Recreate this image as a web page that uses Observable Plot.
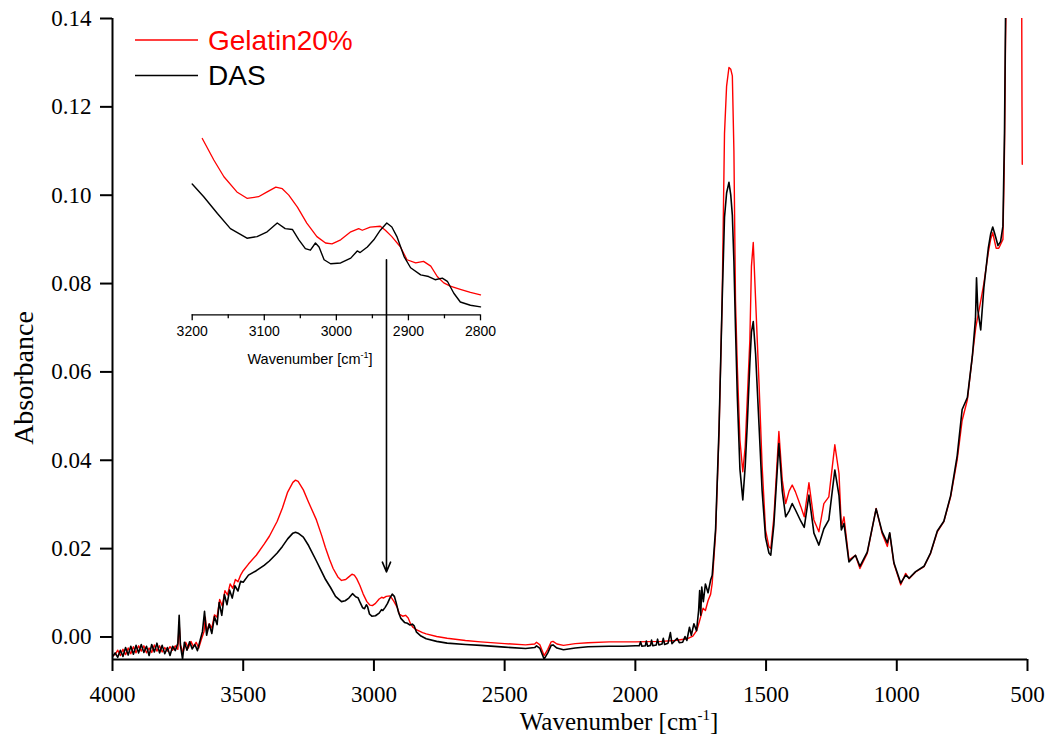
<!DOCTYPE html>
<html><head><meta charset="utf-8">
<script src="https://cdn.jsdelivr.net/npm/d3@7"></script>
<script src="https://cdn.jsdelivr.net/npm/@observablehq/plot@0.6"></script>
<style>
body{margin:0;background:#fff;}
#wrap{position:relative;width:1051px;height:737px;overflow:hidden;background:#fff;}
#wrap svg.mainplot text{font-family:"Liberation Serif", "Times New Roman", serif !important;}
#wrap svg.insetplot text{font-family:"Liberation Sans", Arial, sans-serif !important;}
</style></head><body><div id="wrap"></div>
<script>
// ---- data: [wavenumber cm-1, absorbance] ----
const gelatin = [[4000,-0.0042],[3990,-0.0040],[3980,-0.0030],[3970,-0.0042],[3960,-0.0028],[3950,-0.0040],[3940,-0.0025],[3930,-0.0038],[3920,-0.0022],[3910,-0.0036],[3900,-0.0020],[3890,-0.0032],[3880,-0.0020],[3870,-0.0036],[3860,-0.0025],[3850,-0.0035],[3840,-0.0018],[3830,-0.0032],[3820,-0.0020],[3810,-0.0034],[3800,-0.0024],[3790,-0.0032],[3780,-0.0022],[3770,-0.0030],[3760,-0.0020],[3750,-0.0028],[3745,0.0030],[3740,-0.0018],[3730,-0.0035],[3720,-0.0012],[3710,-0.0025],[3700,-0.0010],[3690,-0.0022],[3680,-0.0012],[3670,-0.0025],[3660,-0.0005],[3650,0.0012],[3645,0.0045],[3640,0.0012],[3630,0.0030],[3620,0.0020],[3610,0.0050],[3600,0.0045],[3590,0.0085],[3580,0.0070],[3570,0.0105],[3560,0.0095],[3550,0.0120],[3540,0.0110],[3530,0.0130],[3520,0.0125],[3510,0.0140],[3500,0.0150],[3480,0.0165],[3450,0.0185],[3420,0.0210],[3400,0.0228],[3370,0.0262],[3350,0.0292],[3330,0.0328],[3310,0.0350],[3300,0.0355],[3290,0.0352],[3270,0.0333],[3250,0.0305],[3220,0.0265],[3200,0.0230],[3186,0.0203],[3170,0.0176],[3156,0.0155],[3138,0.0136],[3124,0.0128],[3108,0.0130],[3096,0.0136],[3084,0.0142],[3075,0.0140],[3066,0.0132],[3054,0.0117],[3041,0.0097],[3027,0.0080],[3015,0.0072],[3006,0.0071],[2994,0.0076],[2980,0.0086],[2969,0.0090],[2964,0.0088],[2953,0.0092],[2939,0.0093],[2932,0.0088],[2923,0.0080],[2911,0.0067],[2902,0.0051],[2890,0.0047],[2879,0.0049],[2869,0.0043],[2860,0.0030],[2851,0.0022],[2842,0.0018],[2828,0.0014],[2814,0.0010],[2800,0.0007],[2760,0.0001],[2720,-0.0003],[2650,-0.0008],[2592,-0.0011],[2500,-0.0015],[2420,-0.0018],[2385,-0.0016],[2378,-0.0012],[2365,-0.0018],[2349,-0.0042],[2335,-0.0028],[2322,-0.0011],[2315,-0.0010],[2300,-0.0016],[2275,-0.0019],[2230,-0.0015],[2181,-0.0013],[2100,-0.0011],[2000,-0.0011],[1900,-0.0010],[1850,-0.0008],[1800,-0.0004],[1780,0.0002],[1765,0.0015],[1755,0.0035],[1748,0.0050],[1741,0.0065],[1732,0.0060],[1722,0.0082],[1712,0.0097],[1706,0.0122],[1693,0.0235],[1680,0.0460],[1668,0.0763],[1659,0.1140],[1651,0.1247],[1642,0.1289],[1635,0.1285],[1629,0.1270],[1623,0.1100],[1617,0.0763],[1610,0.0612],[1600,0.0446],[1589,0.0374],[1580,0.0430],[1572,0.0537],[1562,0.0673],[1556,0.0839],[1549,0.0893],[1540,0.0763],[1527,0.0575],[1515,0.0386],[1502,0.0242],[1489,0.0204],[1482,0.0200],[1470,0.0272],[1451,0.0465],[1438,0.0355],[1425,0.0302],[1412,0.0330],[1400,0.0344],[1388,0.0329],[1367,0.0295],[1354,0.0272],[1336,0.0349],[1317,0.0265],[1298,0.0238],[1279,0.0302],[1260,0.0317],[1237,0.0435],[1221,0.0370],[1212,0.0249],[1202,0.0272],[1183,0.0174],[1158,0.0185],[1141,0.0155],[1113,0.0189],[1079,0.0291],[1056,0.0234],[1036,0.0205],[1027,0.0234],[1011,0.0166],[985,0.0118],[966,0.0144],[953,0.0132],[928,0.0147],[896,0.0159],[871,0.0189],[845,0.0238],[820,0.0261],[794,0.0317],[769,0.0401],[750,0.0490],[730,0.0537],[711,0.0635],[698,0.0700],[679,0.0760],[667,0.0800],[650,0.0870],[641,0.0900],[633,0.0915],[620,0.0880],[610,0.0880],[594,0.0900],[588,0.1100],[584,0.1350],[580,0.1500],[560,0.1600],[523,0.1600],[521,0.1200],[520,0.1070]];

const das = [[4000,-0.0045],[3990,-0.0036],[3980,-0.0046],[3970,-0.0030],[3960,-0.0044],[3950,-0.0024],[3940,-0.0041],[3930,-0.0021],[3920,-0.0039],[3910,-0.0019],[3900,-0.0036],[3890,-0.0017],[3880,-0.0035],[3870,-0.0021],[3860,-0.0042],[3850,-0.0017],[3840,-0.0034],[3830,-0.0014],[3820,-0.0036],[3810,-0.0019],[3800,-0.0038],[3790,-0.0024],[3780,-0.0042],[3770,-0.0021],[3760,-0.0031],[3750,-0.0014],[3745,0.0049],[3740,-0.0020],[3732,-0.0050],[3725,-0.0012],[3715,-0.0030],[3705,-0.0011],[3695,-0.0027],[3685,-0.0017],[3675,-0.0031],[3665,-0.0008],[3656,0.0012],[3648,0.0058],[3640,0.0004],[3630,0.0029],[3620,0.0008],[3610,0.0046],[3600,0.0028],[3592,0.0078],[3582,0.0049],[3572,0.0096],[3562,0.0073],[3552,0.0106],[3542,0.0088],[3532,0.0116],[3520,0.0104],[3510,0.0126],[3500,0.0124],[3480,0.0140],[3450,0.0150],[3420,0.0162],[3400,0.0172],[3370,0.0190],[3350,0.0205],[3330,0.0222],[3310,0.0235],[3300,0.0237],[3290,0.0235],[3270,0.0226],[3250,0.0207],[3220,0.0172],[3200,0.0148],[3185,0.0130],[3166,0.0112],[3147,0.0092],[3124,0.0080],[3110,0.0082],[3096,0.0088],[3082,0.0098],[3070,0.0091],[3061,0.0089],[3052,0.0077],[3043,0.0066],[3036,0.0064],[3029,0.0073],[3024,0.0068],[3017,0.0052],[3008,0.0047],[2994,0.0048],[2980,0.0054],[2971,0.0062],[2966,0.0060],[2957,0.0067],[2948,0.0076],[2939,0.0088],[2930,0.0097],[2922,0.0092],[2916,0.0080],[2906,0.0056],[2897,0.0042],[2883,0.0033],[2872,0.0031],[2862,0.0027],[2853,0.0029],[2846,0.0025],[2837,0.0011],[2820,0.0002],[2800,-0.0004],[2760,-0.0010],[2720,-0.0014],[2650,-0.0017],[2592,-0.0019],[2500,-0.0023],[2420,-0.0026],[2385,-0.0024],[2378,-0.0020],[2365,-0.0026],[2349,-0.0050],[2335,-0.0036],[2322,-0.0019],[2315,-0.0018],[2300,-0.0025],[2275,-0.0029],[2230,-0.0025],[2181,-0.0022],[2100,-0.0021],[2047,-0.0021],[2000,-0.0020],[1985,-0.0020],[1980,-0.0011],[1975,-0.0021],[1962,-0.0020],[1958,-0.0009],[1953,-0.0021],[1942,-0.0019],[1938,-0.0007],[1933,-0.0020],[1920,-0.0018],[1915,-0.0005],[1910,-0.0018],[1898,-0.0016],[1893,-0.0003],[1888,-0.0017],[1875,-0.0014],[1866,0.0010],[1860,-0.0015],[1850,-0.0009],[1840,-0.0003],[1832,-0.0013],[1819,-0.0012],[1810,0.0001],[1803,-0.0008],[1793,0.0022],[1786,0.0004],[1776,0.0030],[1766,0.0014],[1758,0.0060],[1754,0.0105],[1750,0.0049],[1746,0.0113],[1740,0.0080],[1732,0.0120],[1722,0.0100],[1712,0.0129],[1706,0.0140],[1693,0.0245],[1680,0.0470],[1668,0.0760],[1659,0.0950],[1651,0.1005],[1642,0.1029],[1635,0.1000],[1629,0.0955],[1623,0.0850],[1617,0.0700],[1610,0.0545],[1600,0.0380],[1589,0.0310],[1580,0.0385],[1572,0.0480],[1562,0.0620],[1556,0.0690],[1549,0.0714],[1540,0.0640],[1527,0.0480],[1515,0.0330],[1502,0.0225],[1489,0.0190],[1482,0.0185],[1470,0.0255],[1451,0.0438],[1438,0.0330],[1425,0.0272],[1412,0.0285],[1400,0.0302],[1388,0.0288],[1367,0.0262],[1354,0.0248],[1336,0.0321],[1317,0.0235],[1298,0.0208],[1279,0.0245],[1260,0.0265],[1237,0.0378],[1221,0.0320],[1212,0.0242],[1202,0.0257],[1183,0.0170],[1158,0.0185],[1141,0.0160],[1113,0.0192],[1079,0.0290],[1056,0.0238],[1036,0.0213],[1027,0.0236],[1011,0.0168],[985,0.0122],[966,0.0140],[953,0.0133],[928,0.0148],[896,0.0160],[871,0.0190],[845,0.0240],[820,0.0262],[794,0.0320],[769,0.0410],[750,0.0515],[730,0.0542],[711,0.0635],[699,0.0720],[695,0.0813],[690,0.0740],[679,0.0695],[667,0.0790],[650,0.0880],[641,0.0912],[633,0.0928],[625,0.0912],[613,0.0886],[603,0.0895],[594,0.0930],[588,0.1140],[584,0.1405],[578,0.1600]];

// inset (3200–2800 cm-1)
const insetGelatin = [[3186,0.0203],[3170,0.0176],[3156,0.0155],[3138,0.0136],[3124,0.0128],[3108,0.0130],[3096,0.0136],[3084,0.0142],[3075,0.0140],[3066,0.0132],[3054,0.0117],[3041,0.0097],[3027,0.0080],[3015,0.0072],[3006,0.0071],[2994,0.0076],[2980,0.0086],[2969,0.0090],[2964,0.0088],[2953,0.0092],[2939,0.0093],[2932,0.0088],[2923,0.0080],[2911,0.0067],[2902,0.0051],[2890,0.0047],[2879,0.0049],[2869,0.0043],[2860,0.0030],[2851,0.0022],[2842,0.0018],[2828,0.0014],[2814,0.0010],[2800,0.0007]];
const insetDas = [[3200,0.0146],[3184,0.0130],[3165,0.0109],[3147,0.0090],[3124,0.0078],[3110,0.0080],[3096,0.0086],[3082,0.0097],[3071,0.0090],[3061,0.0089],[3052,0.0076],[3043,0.0065],[3036,0.0063],[3029,0.0072],[3024,0.0067],[3017,0.0051],[3008,0.0046],[2994,0.0047],[2980,0.0053],[2971,0.0062],[2967,0.0060],[2957,0.0067],[2948,0.0076],[2939,0.0088],[2930,0.0097],[2923,0.0092],[2916,0.0080],[2906,0.0055],[2897,0.0041],[2883,0.0032],[2872,0.0030],[2863,0.0026],[2853,0.0028],[2846,0.0024],[2837,0.0009],[2828,-0.0002],[2814,-0.0006],[2800,-0.0008]];

const xTicks = [4000,3500,3000,2500,2000,1500,1000,500];
const yTicks = [0,0.02,0.04,0.06,0.08,0.10,0.12,0.14];
const insetTicks = [3200,3100,3000,2900,2800];
const insetMinorTicks = [3150,3050,2950,2850];
const arrowAnno = [{wn:2952, from:0.0854, to:0.0147}];
const xDomain = [4000,500], yDomain = [-0.0051,0.14];
const insetXDomain = [3200,2800], insetYDomain = [-0.0018,0.0213];

const SERIF = "Liberation Serif";
const SANS = "Liberation Sans";
const wrap = document.getElementById("wrap");

const main = Plot.plot({
  width:1051, height:737,
  marginLeft:112, marginRight:24, marginTop:18, marginBottom:78,
  style:{fontFamily:SERIF, fontSize:"23px", background:"white", color:"black", overflow:"visible"},
  x:{domain:xDomain},
  y:{domain:yDomain},
  marks:[
    Plot.line(gelatin,{x:d=>d[0], y:d=>d[1], stroke:"#ff0000", strokeWidth:1.4, clip:true}),
    Plot.line(das,{x:d=>d[0], y:d=>d[1], stroke:"#000000", strokeWidth:1.6, clip:true}),
    Plot.arrow(arrowAnno,{x1:"wn", x2:"wn", y1:"from", y2:"to", stroke:"black", strokeWidth:1.6, headLength:10, headAngle:45}),
    Plot.axisX({ticks:xTicks, tickSize:12, tickPadding:14, tickFormat:d=>String(d), label:null, strokeWidth:2, fontFamily:SERIF, fontSize:23}),
    Plot.axisY({ticks:yTicks, tickSize:12, tickPadding:9, tickFormat:d=>d.toFixed(2), label:null, strokeWidth:2, fontFamily:SERIF, fontSize:23}),
    Plot.ruleY([yDomain[0]],{stroke:"black", strokeWidth:2}),
    Plot.ruleX([xDomain[0]],{stroke:"black", strokeWidth:2})
  ]
});
main.classList.add("mainplot");
main.style.position="absolute"; main.style.left="0px"; main.style.top="0px";
wrap.appendChild(main);

const inset = Plot.plot({
  width:360, height:260,
  marginLeft:41.7, marginRight:30, marginTop:10, marginBottom:65.7,
  style:{fontFamily:SANS, fontSize:"14px", background:"transparent", color:"black", overflow:"visible"},
  x:{domain:insetXDomain},
  y:{domain:insetYDomain, axis:null},
  marks:[
    Plot.line(insetGelatin,{x:d=>d[0], y:d=>d[1], stroke:"#ff0000", strokeWidth:1.3}),
    Plot.line(insetDas,{x:d=>d[0], y:d=>d[1], stroke:"#000000", strokeWidth:1.4}),
    Plot.axisX({ticks:insetTicks, tickSize:6, tickPadding:5, tickFormat:d=>String(d), label:null, strokeWidth:1.3, fontFamily:SANS, fontSize:14}),
    Plot.axisX({ticks:insetMinorTicks, tickSize:4, text:null, label:null, strokeWidth:1.3}),
    Plot.ruleY([insetYDomain[0]],{stroke:"black", strokeWidth:1.3})
  ]
});
inset.classList.add("insetplot");
inset.style.position="absolute"; inset.style.left="150px"; inset.style.top="120px";
wrap.appendChild(inset);

// overlay: legend and axis titles
const ov = d3.select(wrap).append("svg")
  .attr("width",1051).attr("height",737)
  .style("position","absolute").style("left","0px").style("top","0px").style("pointer-events","none");
const legend = [{name:"Gelatin20%", color:"#ff0000", y:40},{name:"DAS", color:"#000000", y:75.5}];
legend.forEach(l=>{
  ov.append("line").attr("x1",135).attr("x2",198).attr("y1",l.y).attr("y2",l.y).attr("stroke",l.color).attr("stroke-width",1.5);
  ov.append("text").attr("x",208).attr("y",l.y+9.5).attr("fill",l.color)
    .attr("font-family",SANS).attr("font-size",28).text(l.name);
});
ov.append("text").attr("transform","translate(33,378) rotate(-90)").attr("text-anchor","middle")
  .attr("font-family",SERIF).attr("font-size",28).text("Absorbance");
const xt = ov.append("text").attr("x",619).attr("y",730).attr("text-anchor","middle")
  .attr("font-family",SERIF).attr("font-size",25);
xt.append("tspan").text("Wavenumber [cm");
xt.append("tspan").attr("dy",-10).attr("font-size",15).text("-1");
xt.append("tspan").attr("dy",10).text("]");
const it = ov.append("text").attr("x",310).attr("y",364).attr("text-anchor","middle")
  .attr("font-family",SANS).attr("font-size",14.5);
it.append("tspan").text("Wavenumber [cm");
it.append("tspan").attr("dy",-6).attr("font-size",9).text("-1");
it.append("tspan").attr("dy",6).text("]");
</script></body></html>
